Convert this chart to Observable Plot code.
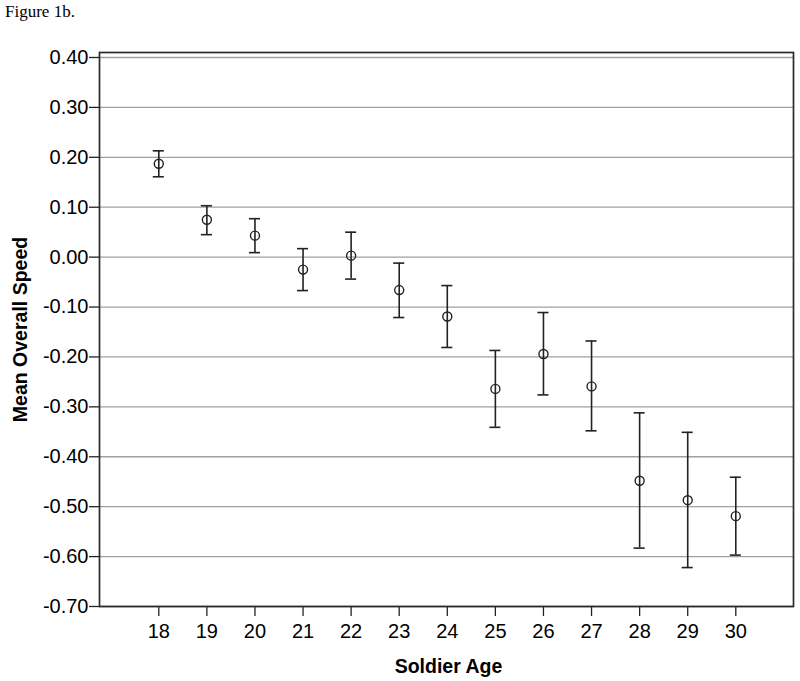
<!DOCTYPE html>
<html>
<head>
<meta charset="utf-8">
<script src="https://cdn.jsdelivr.net/npm/d3@7"></script>
<script src="https://cdn.jsdelivr.net/npm/@observablehq/plot@0.6"></script>
<style>
  body { margin: 0; background: #fff; }
  #wrap { position: relative; width: 800px; height: 681px; }
  #title { position: absolute; left: 5px; top: 2px; font-family: "Liberation Serif", "Times New Roman", serif; font-size: 17px; color: #000; }
</style>
</head>
<body>
<div id="wrap">
  <div id="title">Figure 1b.</div>
  <div id="chart"></div>
</div>
<script>
const ages = [18, 19, 20, 21, 22, 23, 24, 25, 26, 27, 28, 29, 30];
const means = [0.187, 0.075, 0.043, -0.025, 0.003, -0.066, -0.119, -0.264, -0.194, -0.259, -0.448, -0.487, -0.519];
const upper = [0.213, 0.103, 0.077, 0.017, 0.050, -0.012, -0.057, -0.187, -0.111, -0.168, -0.312, -0.351, -0.441];
const lower = [0.161, 0.045, 0.009, -0.067, -0.044, -0.121, -0.181, -0.341, -0.276, -0.348, -0.583, -0.622, -0.597];
const yTicks = [0.40, 0.30, 0.20, 0.10, 0.00, -0.10, -0.20, -0.30, -0.40, -0.50, -0.60, -0.70];
const yTickLabels = ["0.40", "0.30", "0.20", "0.10", "0.00", "-0.10", "-0.20", "-0.30", "-0.40", "-0.50", "-0.60", "-0.70"];
const xLabel = "Soldier Age";
const yLabel = "Mean Overall Speed";

const data = ages.map((a, i) => ({age: a, mean: means[i], hi: upper[i], lo: lower[i]}));
const capHalf = 0.115;

const chart = Plot.plot({
  width: 800,
  height: 681,
  marginTop: 52,
  marginLeft: 99,
  marginRight: 7,
  marginBottom: 75,
  style: {fontFamily: "'Liberation Sans', Arial, sans-serif", fontSize: "20px", color: "#000", background: "#fff"},
  x: {type: "linear", domain: [16.767, 31.2]},
  y: {domain: [-0.70, 0.41]},
  marks: [
    Plot.gridY(yTicks, {stroke: "#a0a0a0", strokeOpacity: 1, strokeWidth: 1.3}),
    Plot.axisY(yTicks, {tickSize: 10, tickPadding: 1, fontSize: 20, tickFormat: (d) => yTickLabels[yTicks.indexOf(d)], label: null, stroke: "#222", strokeWidth: 1.3}),
    Plot.axisX(ages, {tickSize: 10, tickPadding: 7, fontSize: 20, tickFormat: (d) => String(d), label: null, stroke: "#222", strokeWidth: 1.3}),
    Plot.frame({stroke: "#2a2a2a", strokeWidth: 1.7}),
    Plot.ruleX(data, {x: "age", y1: "lo", y2: "hi", stroke: "#222", strokeWidth: 1.6}),
    Plot.ruleY(data, {y: "hi", x1: (d) => d.age - capHalf, x2: (d) => d.age + capHalf, stroke: "#222", strokeWidth: 1.6}),
    Plot.ruleY(data, {y: "lo", x1: (d) => d.age - capHalf, x2: (d) => d.age + capHalf, stroke: "#222", strokeWidth: 1.6}),
    Plot.dot(data, {x: "age", y: "mean", r: 4.5, stroke: "#222", fill: "none", strokeWidth: 1.4}),
    Plot.text([xLabel], {frameAnchor: "bottom", textAnchor: "middle", lineAnchor: "middle", dx: 2, dy: 60, text: (d) => d, fontWeight: "bold", fontSize: 19.5}),
    Plot.text([yLabel], {frameAnchor: "left", textAnchor: "middle", lineAnchor: "middle", dx: -79, rotate: -90, text: (d) => d, fontWeight: "bold", fontSize: 19.5})
  ]
});
document.getElementById("chart").appendChild(chart);
</script>
</body>
</html>
